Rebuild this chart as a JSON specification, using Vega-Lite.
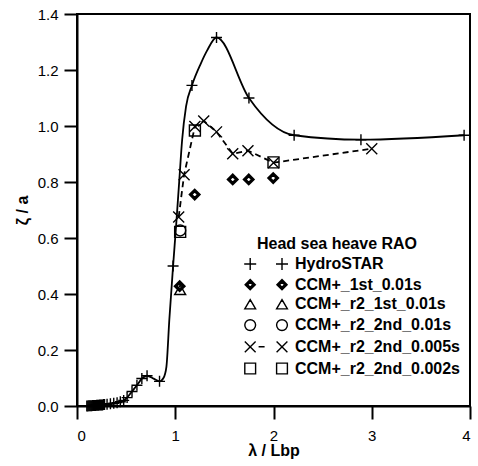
{
  "$schema": "https://vega.github.io/schema/vega-lite/v6.json",
  "width": 393,
  "height": 392,
  "autosize": {"type": "none"},
  "padding": {"left": 77, "top": 14, "right": 8, "bottom": 60},
  "background": "white",
  "config": {
    "font": "Liberation Sans",
    "view": {"stroke": "black", "strokeWidth": 2},
    "axis": {
      "grid": false,
      "domainColor": "black",
      "domainWidth": 2,
      "tickColor": "black",
      "tickWidth": 2,
      "tickSize": 13,
      "labelFontSize": 15,
      "labelColor": "black",
      "titleColor": "black",
      "titleFontSize": 16,
      "titleFontWeight": "bold"
    }
  },
  "resolve": {"scale": {"shape": "independent"}, "legend": {"shape": "independent"}},
  "datasets": {
    "pts": [
      {"series": "HydroSTAR", "x": 0.10, "y": 0.000},
      {"series": "HydroSTAR", "x": 0.11, "y": 0.000},
      {"series": "HydroSTAR", "x": 0.12, "y": 0.001},
      {"series": "HydroSTAR", "x": 0.13, "y": 0.001},
      {"series": "HydroSTAR", "x": 0.14, "y": 0.001},
      {"series": "HydroSTAR", "x": 0.15, "y": 0.001},
      {"series": "HydroSTAR", "x": 0.16, "y": 0.002},
      {"series": "HydroSTAR", "x": 0.17, "y": 0.002},
      {"series": "HydroSTAR", "x": 0.18, "y": 0.002},
      {"series": "HydroSTAR", "x": 0.19, "y": 0.002},
      {"series": "HydroSTAR", "x": 0.20, "y": 0.003},
      {"series": "HydroSTAR", "x": 0.21, "y": 0.003},
      {"series": "HydroSTAR", "x": 0.22, "y": 0.003},
      {"series": "HydroSTAR", "x": 0.23, "y": 0.004},
      {"series": "HydroSTAR", "x": 0.24, "y": 0.004},
      {"series": "HydroSTAR", "x": 0.25, "y": 0.004},
      {"series": "HydroSTAR", "x": 0.26, "y": 0.004},
      {"series": "HydroSTAR", "x": 0.27, "y": 0.005},
      {"series": "HydroSTAR", "x": 0.28, "y": 0.005},
      {"series": "HydroSTAR", "x": 0.306, "y": 0.006},
      {"series": "HydroSTAR", "x": 0.34, "y": 0.008},
      {"series": "HydroSTAR", "x": 0.374, "y": 0.010},
      {"series": "HydroSTAR", "x": 0.408, "y": 0.012},
      {"series": "HydroSTAR", "x": 0.441, "y": 0.015},
      {"series": "HydroSTAR", "x": 0.475, "y": 0.020},
      {"series": "HydroSTAR", "x": 0.51, "y": 0.030},
      {"series": "HydroSTAR", "x": 0.56, "y": 0.052},
      {"series": "HydroSTAR", "x": 0.61, "y": 0.074},
      {"series": "HydroSTAR", "x": 0.66, "y": 0.098},
      {"series": "HydroSTAR", "x": 0.713, "y": 0.108},
      {"series": "HydroSTAR", "x": 0.84, "y": 0.088},
      {"series": "HydroSTAR", "x": 0.978, "y": 0.500},
      {"series": "HydroSTAR", "x": 1.17, "y": 1.145},
      {"series": "HydroSTAR", "x": 1.42, "y": 1.316},
      {"series": "HydroSTAR", "x": 1.75, "y": 1.100},
      {"series": "HydroSTAR", "x": 2.21, "y": 0.967},
      {"series": "HydroSTAR", "x": 2.89, "y": 0.951},
      {"series": "HydroSTAR", "x": 3.94, "y": 0.967},
      {"series": "CCM+_1st_0.01s", "x": 1.045, "y": 0.428},
      {"series": "CCM+_1st_0.01s", "x": 1.198, "y": 0.755},
      {"series": "CCM+_1st_0.01s", "x": 1.585, "y": 0.809},
      {"series": "CCM+_1st_0.01s", "x": 1.748, "y": 0.809},
      {"series": "CCM+_1st_0.01s", "x": 1.997, "y": 0.814},
      {"series": "CCM+_r2_1st_0.01s", "x": 1.05, "y": 0.415},
      {"series": "CCM+_r2_2nd_0.01s", "x": 1.05, "y": 0.627},
      {"series": "CCM+_r2_2nd_0.005s", "x": 1.035, "y": 0.675},
      {"series": "CCM+_r2_2nd_0.005s", "x": 1.09, "y": 0.826},
      {"series": "CCM+_r2_2nd_0.005s", "x": 1.20, "y": 0.998},
      {"series": "CCM+_r2_2nd_0.005s", "x": 1.29, "y": 1.018},
      {"series": "CCM+_r2_2nd_0.005s", "x": 1.42, "y": 0.979},
      {"series": "CCM+_r2_2nd_0.005s", "x": 1.585, "y": 0.901},
      {"series": "CCM+_r2_2nd_0.005s", "x": 1.74, "y": 0.912},
      {"series": "CCM+_r2_2nd_0.005s", "x": 2.0, "y": 0.869},
      {"series": "CCM+_r2_2nd_0.005s", "x": 3.0, "y": 0.919},
      {"series": "CCM+_r2_2nd_0.002s", "x": 1.05, "y": 0.622},
      {"series": "CCM+_r2_2nd_0.002s", "x": 1.20, "y": 0.984},
      {"series": "CCM+_r2_2nd_0.002s", "x": 2.0, "y": 0.870}
    ],
    "curve": [
      {"x": 0.10, "y": 0.000},
      {"x": 0.15, "y": 0.001},
      {"x": 0.20, "y": 0.003},
      {"x": 0.25, "y": 0.004},
      {"x": 0.306, "y": 0.006},
      {"x": 0.374, "y": 0.010},
      {"x": 0.441, "y": 0.015},
      {"x": 0.475, "y": 0.020},
      {"x": 0.51, "y": 0.030},
      {"x": 0.56, "y": 0.052},
      {"x": 0.61, "y": 0.074},
      {"x": 0.66, "y": 0.098},
      {"x": 0.713, "y": 0.108},
      {"x": 0.78, "y": 0.098},
      {"x": 0.84, "y": 0.088},
      {"x": 0.88, "y": 0.100},
      {"x": 0.91, "y": 0.140},
      {"x": 0.94, "y": 0.310},
      {"x": 0.978, "y": 0.500},
      {"x": 1.01, "y": 0.650},
      {"x": 1.04, "y": 0.800},
      {"x": 1.07, "y": 0.950},
      {"x": 1.11, "y": 1.070},
      {"x": 1.17, "y": 1.145},
      {"x": 1.26, "y": 1.223},
      {"x": 1.325, "y": 1.270},
      {"x": 1.42, "y": 1.316},
      {"x": 1.75, "y": 1.100},
      {"x": 2.21, "y": 0.967},
      {"x": 2.89, "y": 0.951},
      {"x": 3.94, "y": 0.967}
    ]
  },
  "layer": [
    {
      "data": {"name": "curve"},
      "mark": {"type": "line", "color": "black", "strokeWidth": 1.8, "interpolate": "monotone"},
      "encoding": {
        "x": {"field": "x", "type": "quantitative"},
        "y": {"field": "y", "type": "quantitative"}
      }
    },
    {
      "data": {"name": "pts"},
      "transform": [{"filter": "datum.series === 'CCM+_r2_2nd_0.005s'"}],
      "mark": {"type": "line", "color": "black", "strokeWidth": 1.8, "strokeDash": [6, 4]},
      "encoding": {
        "x": {"field": "x", "type": "quantitative"},
        "y": {"field": "y", "type": "quantitative"}
      }
    },
    {
      "data": {"name": "pts"},
      "mark": {"type": "point", "filled": false, "color": "black", "opacity": 1, "strokeWidth": 1.4},
      "encoding": {
        "x": {
          "field": "x", "type": "quantitative",
          "scale": {"domain": [0, 4], "nice": false, "zero": false},
          "axis": {"values": [0, 1, 2, 3, 4], "format": "d", "labelPadding": 9, "title": "λ / Lbp", "titleY": 49, "titleBaseline": "alphabetic"}
        },
        "y": {
          "field": "y", "type": "quantitative",
          "scale": {"domain": [0, 1.4], "nice": false, "zero": false},
          "axis": {"values": [0, 0.2, 0.4, 0.6, 0.8, 1.0, 1.2, 1.4], "format": ".1f", "labelPadding": 6, "title": "ζ / a", "titleX": -55, "titleBaseline": "middle"}
        },
        "shape": {
          "field": "series", "type": "nominal",
          "scale": {
            "domain": ["HydroSTAR", "CCM+_1st_0.01s", "CCM+_r2_1st_0.01s", "CCM+_r2_2nd_0.01s", "CCM+_r2_2nd_0.005s", "CCM+_r2_2nd_0.002s"],
            "range": ["M-1,0H1M0,-1V1", "M0,-0.9L0.9,0L0,0.9L-0.9,0ZM0,-0.68L0.68,0L0,0.68L-0.68,0ZM0,-0.47L0.47,0L0,0.47L-0.47,0Z", "triangle-up", "circle", "M-1,-1L1,1M-1,1L1,-1", "square"]
          },
          "legend": null
        },
        "size": {"condition": {"test": "datum.series === 'CCM+_1st_0.01s'", "value": 144}, "value": 121}
      }
    },
    {
      "data": {"name": "pts"},
      "mark": {"type": "point", "filled": false, "color": "black", "opacity": 0, "strokeWidth": 1.4},
      "encoding": {
        "x": {"field": "x", "type": "quantitative"},
        "y": {"field": "y", "type": "quantitative"},
        "shape": {
          "field": "series", "type": "nominal",
          "scale": {
            "domain": ["HydroSTAR", "CCM+_1st_0.01s", "CCM+_r2_1st_0.01s", "CCM+_r2_2nd_0.01s", "CCM+_r2_2nd_0.005s", "CCM+_r2_2nd_0.002s"],
            "range": [
              "M-6.3,0H-4.3M-5.3,-1V1M-1,0H1M0,-1V1",
              "M-5.3,-0.85L-4.45,0L-5.3,0.85L-6.15,0ZM-5.3,-0.62L-4.68,0L-5.3,0.62L-5.92,0ZM-5.3,-0.42L-4.88,0L-5.3,0.42L-5.72,0ZM0,-0.85L0.85,0L0,0.85L-0.85,0ZM0,-0.62L0.62,0L0,0.62L-0.62,0ZM0,-0.42L0.42,0L0,0.42L-0.42,0Z",
              "M-5.3,-0.8L-4.4,0.75L-6.2,0.75ZM0,-0.8L0.9,0.75L-0.9,0.75Z",
              "M-4.4,0A0.9,0.9 0 1 1 -6.2,0A0.9,0.9 0 1 1 -4.4,0ZM0.9,0A0.9,0.9 0 1 1 -0.9,0A0.9,0.9 0 1 1 0.9,0Z",
              "M-6.2,-0.9L-4.4,0.9M-6.2,0.9L-4.4,-0.9M-3.9,0H-2.9M-0.9,-0.9L0.9,0.9M-0.9,0.9L0.9,-0.9",
              "M-6.2,-0.9H-4.4V0.9H-6.2ZM-0.9,-0.9H0.9V0.9H-0.9Z"
            ]
          },
          "legend": {
            "orient": "none",
            "legendX": 138,
            "legendY": 222,
            "padding": 0,
            "title": "Head sea heave RAO",
            "titleFontSize": 16,
            "titleFontWeight": "bold",
            "titleColor": "black",
            "titleAnchor": "middle",
            "titlePadding": 4,
            "labelFontSize": 16,
            "labelFontWeight": "bold",
            "labelColor": "black",
            "labelLimit": 0,
            "labelOffset": 5,
            "symbolOffset": 59,
            "symbolSize": 144,
            "symbolStrokeWidth": 1.4,
            "symbolStrokeColor": "black",
            "symbolFillColor": "transparent",
            "symbolOpacity": 1,
            "rowPadding": 3.7
          }
        }
      }
    }
  ]
}
